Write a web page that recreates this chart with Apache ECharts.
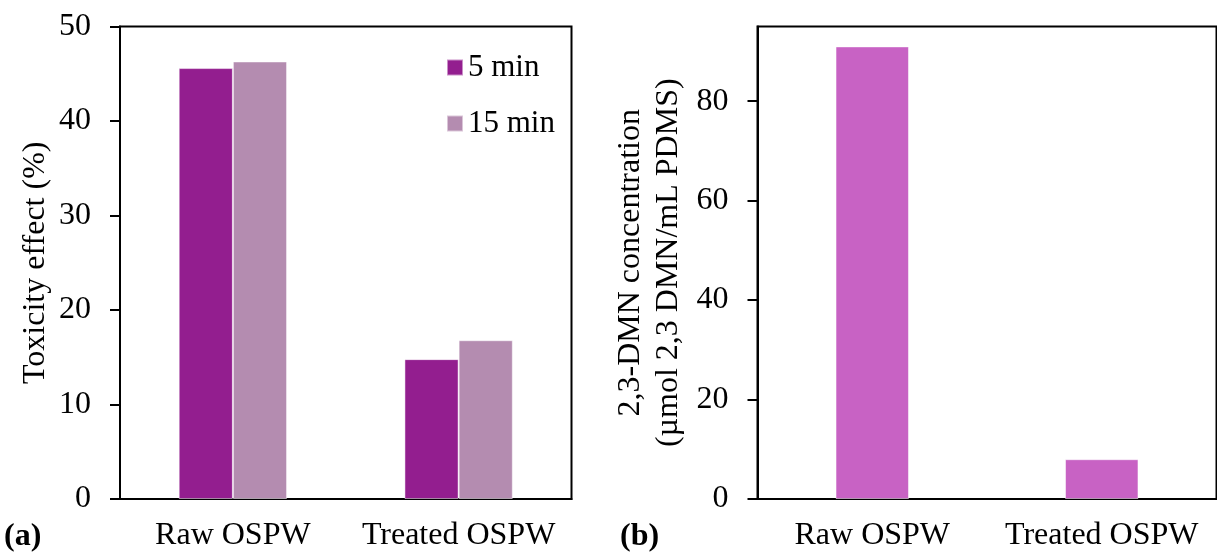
<!DOCTYPE html>
<html>
<head>
<meta charset="utf-8">
<script src="https://cdn.jsdelivr.net/npm/echarts@6/dist/echarts.min.js"></script>
<style>
  html, body { margin: 0; padding: 0; background: #fff; }
  #chart { width: 1217px; height: 552px; }
</style>
</head>
<body>
<div id="chart"></div>
<script>
// Panel (a): toxicity effect after 5 and 15 min exposure
const categories = ['Raw OSPW', 'Treated OSPW'];
const seriesNames = ['5 min', '15 min'];
const toxicity5min = [45.6, 14.8];
const toxicity15min = [46.3, 16.8];
const toxicityTicks = [0, 10, 20, 30, 40, 50];

// Panel (b): 2,3-DMN concentration in PDMS
const dmnConcentration = [91.0, 8.0];
const dmnTicks = [0, 20, 40, 60, 80];

const FONT = "'Liberation Serif', 'Times New Roman', serif";
const FS_Y = 32;
const FS_X = 32;
const FS_LEGEND = 31;
const AXIS_LINE = { show: true, lineStyle: { color: '#000', width: 2 } };
const TICK = { show: true, length: 10, lineStyle: { color: '#000', width: 2 } };

const chart = echarts.init(document.getElementById('chart'), null, { renderer: 'canvas' });

chart.setOption({
  animation: false,
  backgroundColor: '#fff',
  textStyle: { fontFamily: FONT },
  grid: [
    { left: 120, top: 26.5, width: 451.5, height: 475.5, show: true,
      borderColor: '#000', borderWidth: 2, backgroundColor: 'transparent' },
    { left: 757.5, top: 26.5, width: 459, height: 475.5, show: true,
      borderColor: '#000', borderWidth: 2, backgroundColor: 'transparent' }
  ],
  legend: {
    data: seriesNames,
    orient: 'vertical',
    left: 441, top: 47,
    icon: 'rect',
    itemWidth: 16, itemHeight: 16,
    itemGap: 25,
    textStyle: { fontFamily: FONT, fontSize: FS_LEGEND, color: '#000' }
  },
  xAxis: [
    { type: 'category', gridIndex: 0, data: categories,
      axisLine: AXIS_LINE, axisTick: { show: false },
      axisLabel: { fontFamily: FONT, fontSize: FS_X, color: '#000', margin: 21, interval: 0 } },
    { type: 'category', gridIndex: 1, data: categories,
      axisLine: AXIS_LINE, axisTick: { show: false },
      axisLabel: { fontFamily: FONT, fontSize: FS_X, color: '#000', margin: 21, interval: 0 } }
  ],
  yAxis: [
    { type: 'value', gridIndex: 0, min: 0, max: 50, interval: 10,
      name: 'Toxicity effect (%)', nameLocation: 'middle', nameGap: 68,
      nameMoveOverlap: false,
      nameTextStyle: { fontFamily: FONT, fontSize: FS_Y, color: '#000' },
      axisLine: AXIS_LINE,
      axisTick: Object.assign({ customValues: toxicityTicks }, TICK),
      axisLabel: { fontFamily: FONT, fontSize: FS_Y, color: '#000', margin: 29,
                   customValues: toxicityTicks },
      splitLine: { show: false } },
    { type: 'value', gridIndex: 1, min: 0, max: 95, interval: 20,
      name: '2,3-DMN concentration\n(µmol 2,3 DMN/mL PDMS)', nameLocation: 'middle', nameGap: 70,
      nameMoveOverlap: false,
      nameTextStyle: { fontFamily: FONT, fontSize: FS_Y, color: '#000', lineHeight: 38 },
      axisLine: AXIS_LINE,
      axisTick: Object.assign({ customValues: dmnTicks }, TICK),
      axisLabel: { fontFamily: FONT, fontSize: FS_Y, color: '#000', margin: 29,
                   customValues: dmnTicks },
      splitLine: { show: false } }
  ],
  series: [
    { name: seriesNames[0], type: 'bar', xAxisIndex: 0, yAxisIndex: 0,
      data: toxicity5min, barGap: '0%', barCategoryGap: '52%',
      itemStyle: { color: '#931E8F', borderColor: 'rgba(255,255,255,0.5)', borderWidth: 1 } },
    { name: seriesNames[1], type: 'bar', xAxisIndex: 0, yAxisIndex: 0,
      data: toxicity15min, barGap: '0%', barCategoryGap: '52%',
      itemStyle: { color: '#B48CB0', borderColor: 'rgba(255,255,255,0.5)', borderWidth: 1 } },
    { name: 'DMN', type: 'bar', xAxisIndex: 1, yAxisIndex: 1,
      data: dmnConcentration, barCategoryGap: '68%',
      itemStyle: { color: '#C862C4', borderColor: 'rgba(255,255,255,0.5)', borderWidth: 1 } }
  ],
  graphic: [
    { type: 'text', left: 4, top: 521,
      style: { text: '(a)', font: 'bold 32px ' + FONT, fill: '#000' } },
    { type: 'text', left: 620, top: 521,
      style: { text: '(b)', font: 'bold 32px ' + FONT, fill: '#000' } }
  ]
});
</script>
</body>
</html>
